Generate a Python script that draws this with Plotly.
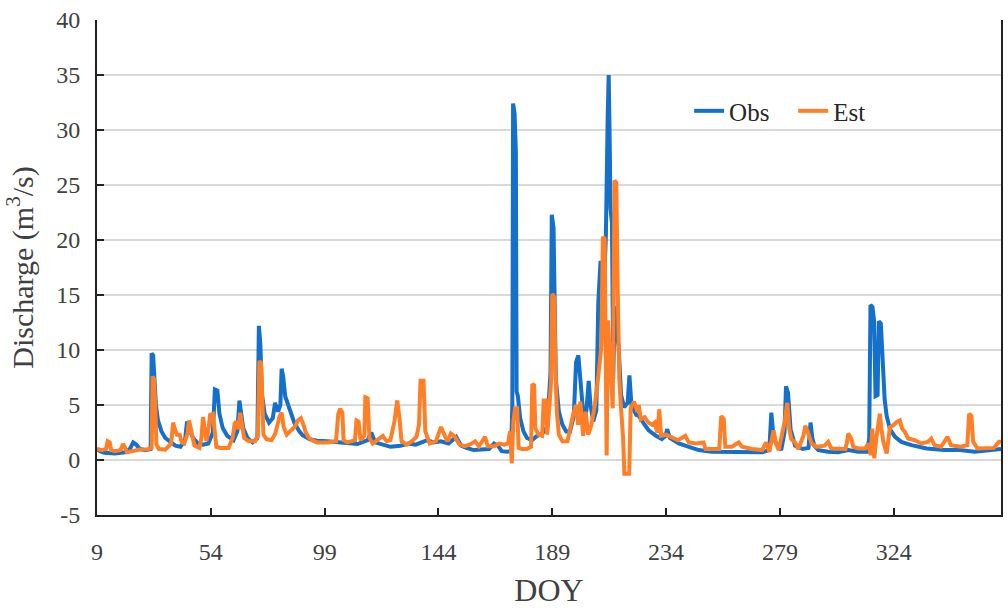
import plotly.graph_objects as go

# Observed discharge (day of year, m3/s)
obs_day = [9.0, 10.2, 12, 16, 20, 22, 23.3, 24.5, 26, 28, 30.2, 30.6, 31.2, 31.7, 32.3, 33.1, 34.5, 36, 38, 40,
           42, 43.8, 44.6, 45.5, 47, 49, 51, 53, 54.8, 55.6, 56.6, 57.4, 58.7, 60.5, 63, 64.5, 65.3, 66, 66.8, 68.5,
           70.5, 72.4, 73.0, 73.6, 74.2, 75.3, 77, 78.5, 79.4, 80.6, 81.5, 82.0, 82.6, 83.4, 85.1, 87, 89, 90.3, 93, 96,
           100, 104, 108, 112, 116, 117.4, 119, 122, 125, 129, 132, 135, 139.6, 142, 145, 148, 151, 153, 155, 158,
           161, 164, 166, 167.5, 169, 171, 172.7, 173.2, 173.5, 174.1, 174.6, 174.9, 175.4, 176.3, 177.6, 179, 181, 183,
           185, 187, 188.3, 188.8, 189.5, 189.9, 190.4, 191.6, 193, 194.5, 196, 197.5, 198.4, 199.3, 200, 200.8, 201.5,
           202.5, 203.4, 204.1, 205.2, 206.4, 207.2, 208.1, 208.7, 209.5, 210.2, 210.9, 211.3, 211.7, 212.0, 212.6,
           213.1, 213.6, 214.2, 215.2, 216.2, 217.4, 218.8, 219.5, 220.3, 222.2, 223.2, 225.2, 227.1, 230, 232.3,
           233.8, 234.4, 235.5, 239, 243, 246.9, 252, 260, 266.6, 272, 274.8, 275.6, 276.3, 277.3, 279.5, 280.8, 281.4,
           282.2, 283.2, 285, 288, 290.3, 291.1, 291.8, 292.6, 294.2, 298.1, 302, 306, 310, 313.5, 314.3, 314.8, 315.6,
           316.2, 316.8, 317.6, 318.1, 318.9, 319.6, 320.4, 321.2, 322.5, 324.5, 327, 331, 337, 344, 350, 356, 362,
           366.4]
obs_q = [1.0, 0.8, 0.65, 0.6, 0.7, 1.0, 1.6, 1.4, 1.0, 0.9, 1.0, 9.7, 9.5, 6.5, 5.0, 3.6, 2.6, 2.0, 1.6, 1.3,
         1.2, 1.8, 3.5, 2.8, 2.0, 1.5, 1.4, 1.5, 2.5, 6.4, 6.3, 4.2, 2.9, 2.2, 1.8, 2.6, 5.4, 4.2, 2.9, 2.0,
         1.6, 2.0, 12.2, 10.5, 6.0, 4.2, 3.4, 3.8, 5.2, 4.4, 5.0, 8.3, 7.6, 5.8, 4.6, 3.4, 2.6, 2.25, 1.9, 1.75,
         1.7, 1.6, 1.5, 1.45, 1.8, 2.5, 1.6, 1.4, 1.2, 1.3, 1.5, 1.4, 1.8, 1.6, 1.7, 1.5, 2.1, 1.3, 1.1, 0.9,
         0.95, 1.0, 1.5, 1.3, 0.8, 0.75, 0.8, 5.0, 32.4, 31.5, 28.0, 6.2, 5.8, 3.8, 2.6, 2.0, 1.8, 2.2,
         2.4, 3.0, 8.0, 22.3, 21.1, 11.3, 7.4, 4.4, 3.2, 2.6, 2.6, 4.0, 8.9, 9.5, 7.4, 5.0, 3.5,
         4.5, 7.2, 5.0, 3.5, 4.5, 14.4, 18.1, 13.3, 16.0, 20.5, 31.2, 35.0, 29.0, 22.9, 21.5,
         7.4, 14.0, 12.0, 10.4, 5.9, 4.8, 5.2, 7.7, 5.0, 4.1, 4.0, 3.3, 2.7, 2.2, 1.9,
         2.2, 2.8, 2.0, 1.5, 1.2, 0.9, 0.75, 0.75, 0.7, 0.7, 0.9, 4.3, 2.5, 1.6, 0.9, 2.5, 6.7,
         6.1, 2.8, 1.3, 1.0, 1.1, 3.4, 2.0, 1.3, 0.9, 0.75, 0.7, 0.9, 0.75, 0.75, 2.0, 14.1, 13.9,
         12.7, 5.8, 5.9, 12.6, 12.4, 9.4, 5.5, 4.0, 2.8, 2.1, 1.65, 1.35, 1.05, 0.9, 0.9, 0.75, 0.9,
         1.0]

# Estimated discharge (day of year, m3/s)
est_day = [9, 11, 12.6, 13.2, 14.0, 14.6, 16, 18.3, 19.3, 20.0, 20.8, 23, 26, 29, 30.6, 31.0, 31.5, 32.0, 32.5, 33.5,
           36, 38.3, 39.1, 39.8, 40.6, 41.7, 42.5, 43.5, 44.8, 45.4, 46.3, 47.5, 49.5, 50.3, 50.9, 51.6, 52.3, 53.2,
           53.7, 54.8, 55.4, 56.2, 58, 61, 62.6, 63.4, 64, 65, 65.6, 66.3, 67.2, 69, 71.5, 72.6, 73.2, 73.9, 74.4,
           74.8, 76, 78, 79.5, 80.4, 81.2, 82.0, 82.8, 84, 85.5, 87.1, 88.5, 89.6, 90.5, 91.4, 92.5, 94, 96, 100,
           103.5, 104.4, 105.1, 106, 106.5, 108, 111, 111.6, 112.4, 113.2, 114.7, 115.1, 116.0, 116.7, 118, 120, 122,
           123.5, 125, 126.6, 127.7, 128.6, 129.4, 131.5, 133.5, 135.3, 136.3, 136.9, 138.1, 138.8, 140.5, 143, 145,
           146.3, 147.6, 148.9, 150.5, 152.3, 154.3, 156.3, 158.5, 160, 162.4, 163.5, 166, 168, 170, 171.5, 172.3,
           173.0, 173.6, 174.3, 175.1, 175.7, 177, 179, 180.6, 181.1, 181.8, 182.3, 183.5, 185, 185.6, 186.4, 187,
           187.8, 188.5, 189.0, 189.8, 190.2, 190.8, 191.6, 193, 195, 196, 197.5, 198.4, 199.2, 200.1, 201.2, 202.2,
           203.2, 204.5, 205.8, 207.1, 208.4, 209.0, 209.7, 210.0, 210.5, 211.0, 212, 212.9, 213.6, 214.3, 214.9,
           215.5, 216.1, 217.0, 217.5, 219.4, 220.0, 221.3, 222.6, 223.2, 224, 225.5, 227, 228.5, 229.5, 230.5,
           231.3, 232, 234, 236, 238.7, 241.6, 243, 246, 248.8, 249.6, 255, 255.8, 256.8, 257.4, 260, 262.7, 264,
           268, 272, 273.5, 274.8, 276.5, 277.3, 278.5, 280.8, 281.9, 282.7, 283.5, 285, 286.3, 288.3, 289.0, 290,
           291.5, 293.5, 296.6, 298.1, 299.3, 302, 304.9, 305.5, 306, 307.2, 308, 310, 312.7, 313.9, 314.9, 315.5,
           316.3, 317.1, 318.5, 319.1, 319.9, 321.2, 322.5, 323.8, 325.1, 326.4, 327.3, 328.4, 329.7, 332.3, 334.9,
           337.5, 338.8, 340.1, 342.7, 345.3, 346.6, 350.4, 353.1, 353.8, 354.7, 355.4, 357.1, 363.6, 365.6, 366.4]
est_q = [1.0, 0.9, 1.0, 1.7, 1.6, 0.9, 0.8, 0.9, 1.45, 1.2, 0.7, 0.8, 0.95, 0.95, 1.1, 7.6, 7.4, 5.2, 1.4, 1.0,
         0.95, 1.5, 3.4, 2.8, 2.3, 2.3, 1.6, 1.5, 2.4, 3.6, 2.4, 1.3, 1.1, 2.0, 3.9, 2.5, 1.7, 3.0,
         4.1, 4.2, 2.9, 1.2, 1.1, 1.1, 2.0, 3.3, 3.5, 2.8, 4.3, 3.2, 2.0, 1.7, 1.7, 2.2, 9.0, 8.8, 5.0,
         2.3, 1.9, 1.8, 2.4, 3.5, 4.0, 4.3, 3.0, 2.3, 2.6, 3.0, 3.6, 3.8, 3.3, 2.6, 2.1, 1.8, 1.6, 1.6,
         1.7, 4.2, 4.65, 4.3, 1.8, 1.6, 1.8, 3.6, 3.5, 1.8, 2.2, 5.7, 5.6, 2.0, 1.5, 1.8, 2.2,
         1.7, 1.8, 3.5, 5.4, 3.8, 1.7, 1.4, 1.7, 2.1, 3.2, 7.2, 7.2, 2.6, 1.5, 1.7, 3.0,
         2.3, 1.7, 2.4, 2.1, 1.4, 1.25, 1.4, 1.7, 1.25, 2.1, 1.25, 1.25, 1.5, 1.4, 1.5, 2.6,
         -0.3, 3.5, 4.7, 4.7, 1.1, 1.0, 1.0, 1.2, 6.9, 6.8, 2.9, 2.3, 2.2, 5.4, 5.4, 2.3,
         4.7, 7.0, 15.1, 14.8, 8.6, 4.4, 2.3, 1.7, 1.7, 2.9, 4.4, 5.0, 3.2, 5.3, 2.2, 4.4,
         2.3, 3.2, 5.0, 7.4, 10.4, 20.3, 20.1, 12.7, 0.4, 12.7, 8.0, 4.7, 25.4, 25.2, 15.1,
         7.4, 5.0, 2.0, -1.25, -1.25, 4.7, 5.3, 4.4, 5.0, 3.7, 3.9, 3.4, 3.2, 3.4, 2.5,
         4.6, 2.2, 2.3, 2.1, 1.8, 2.2, 1.6, 1.5, 1.6, 1.0, 1.0, 4.0, 3.7, 1.2, 1.2, 1.6, 1.2,
         1.0, 0.9, 1.6, 0.75, 2.7, 1.6, 0.9, 3.4, 5.2, 2.8, 1.9, 1.6, 1.0, 2.2, 3.1, 2.6,
         1.5, 1.2, 1.3, 1.65, 1.05, 1.0, 1.0, 1.6, 2.4, 1.95, 1.2, 1.05, 1.05, 1.5, 0.45, 2.85,
         0.15, 1.95, 4.2, 2.85, 1.65, 0.6, 3.0, 3.15, 3.45, 3.6, 2.85, 2.55, 1.95, 1.8, 1.5,
         1.65, 1.95, 1.35, 1.2, 2.1, 1.35, 1.2, 1.35, 4.2, 4.0, 1.65, 1.05, 1.1, 1.65, 1.6]

doy_ticks = [9, 54, 99, 144, 189, 234, 279, 324]
q_ticks = [-5, 0, 5, 10, 15, 20, 25, 30, 35, 40]
q_tick_text = ["-5", "0", "5", "10", "15", "20", "25", "30", "35", "40"]

BLUE = "#1470c8"
ORANGE = "#ff7f27"
FONT = "Liberation Serif"
NBSP = "\u00a0"

fig = go.Figure()
# non-breaking spaces widen the gap between the two legend entries
fig.add_trace(go.Scatter(x=obs_day, y=obs_q, mode="lines", name="Obs" + NBSP * 3,
                         line=dict(color=BLUE, width=4)))
fig.add_trace(go.Scatter(x=est_day, y=est_q, mode="lines", name="Est",
                         line=dict(color=ORANGE, width=4)))

fig.update_layout(
    width=1008, height=608,
    margin=dict(l=97, r=5, t=20, b=88),
    paper_bgcolor="white", plot_bgcolor="white",
    font=dict(family=FONT, color="#404040", size=22),
    showlegend=True,
    legend=dict(orientation="h", x=0.655, y=0.816, xanchor="left", yanchor="middle",
                bgcolor="rgba(0,0,0,0)", font=dict(family=FONT, size=25, color="#262626"),
                itemwidth=30, tracegroupgap=0),
    xaxis=dict(
        range=[9, 366.4], tickmode="array", tickvals=doy_ticks,
        ticktext=[str(t) for t in doy_ticks],
        showgrid=False, zeroline=False,
        showline=True, linecolor="#222222", linewidth=2,
        ticks="inside", ticklen=7, tickwidth=1.5, tickcolor="#222222",
        ticklabelstandoff=14,
        tickfont=dict(family=FONT, size=24, color="#404040"),
        title=dict(text="DOY", font=dict(family=FONT, size=32, color="#404040"), standoff=16),
    ),
    yaxis=dict(
        range=[-5, 40], tickmode="array", tickvals=q_ticks, ticktext=q_tick_text,
        showgrid=True, gridcolor="#d9d9d9", gridwidth=1.5, zeroline=False,
        showline=True, linecolor="#222222", linewidth=2, mirror=True,
        ticks="inside", ticklen=7, tickwidth=1.5, tickcolor="#222222",
        ticklabelstandoff=10,
        tickfont=dict(family=FONT, size=24, color="#404040"),
        title=dict(text="Discharge (m<sup>3</sup>/s)", font=dict(family=FONT, size=30, color="#404040"),
                   standoff=14),
    ),
)

fig.write_html("out.html")
